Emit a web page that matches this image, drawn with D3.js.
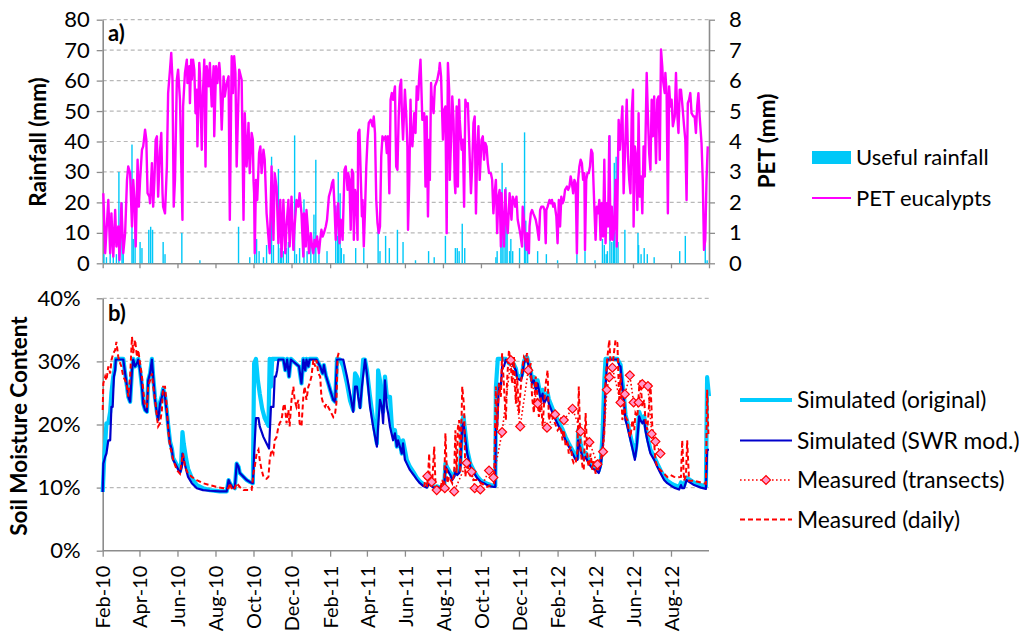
<!DOCTYPE html>
<html><head><meta charset="utf-8">
<script src="https://cdn.jsdelivr.net/npm/d3@7"></script>
<style>
body{margin:0;background:#fff;}
text{font-family:Lato,"Open Sans",sans-serif;fill:#000;}
</style></head><body>
<svg id="c" width="1019" height="637"></svg>
<script>
// ---------------- DATA ----------------
const startDate = "2010-02-01";   // day 0 of all series
const endDate = "2012-10-01";
const rainTicks = [0,10,20,30,40,50,60,70,80];
const petTicks = [0,1,2,3,4,5,6,7,8];
const smcTicks = [0,0.1,0.2,0.3,0.4];
const xTickLabels = ["Feb-10","Apr-10","Jun-10","Aug-10","Oct-10","Dec-10","Feb-11","Apr-11","Jun-11","Aug-11","Oct-11","Dec-11","Feb-12","Apr-12","Jun-12","Aug-12"];
const legendTop = ["Useful rainfall","PET eucalypts"];
const legendBottom = ["Simulated (original)","Simulated (SWR mod.)","Measured (transects)","Measured (daily)"];

// useful rainfall [day, mm]
const rain = [[2,3],[6,2],[12,5],[17,4],[22,3],[26,30],[31,20],[33,6],[47,39],[49,8],[52,12],[60,7],[63,5],[74,11],[77,12],[80,11],[97,7],[100,3],[127,10],[156,1],[218,12],[236,2],[244,3],[247,8],[251,4],[258,2],[263,6],[271,35],[274,6],[282,31],[285,5],[287,8],[290,4],[295,5],[298,7],[308,42],[311,3],[316,5],[323,21],[328,4],[334,6],[339,16],[342,34],[347,3],[360,4],[374,19],[377,9],[378,30],[381,23],[383,5],[387,3],[406,5],[419,5],[442,13],[445,4],[454,9],[460,5],[473,11],[482,7],[502,1],[523,4],[532,2],[550,9],[566,5],[569,5],[572,4],[577,13],[581,5],[631,2],[633,4],[639,6],[641,33],[644,8],[647,25],[649,15],[653,4],[655,8],[658,4],[669,5],[677,43],[679,14],[682,5],[698,4],[712,3],[730,1],[761,3],[774,4],[790,1],[802,8],[805,6],[808,3],[810,4],[814,42],[817,7],[820,15],[821,33],[824,35],[827,7],[838,11],[859,10],[860,6],[864,3],[869,5],[874,3],[885,2],[926,4],[935,9],[967,8],[970,1]];

// PET eucalypts [day, mm]
const pet = [[1,2.30],[4,0.33],[9,2.08],[12,0.33],[14,1.64],[17,0.22],[20,1.75],[22,0.55],[25,1.21],[27,0.11],[30,1.97],[33,0.33],[36,0.99],[39,2.74],[41,3.18],[44,2.96],[47,1.21],[49,2.74],[51,2.08],[53,0.55],[56,3.40],[58,1.86],[60,2.74],[63,3.73],[65,3.84],[68,4.39],[70,4.06],[72,2.30],[75,2.19],[76,1.97],[79,3.29],[81,1.86],[83,2.74],[85,4.06],[87,4.17],[89,2.19],[92,3.73],[94,4.28],[96,2.30],[97,1.86],[100,1.64],[103,3.18],[105,5.59],[108,6.36],[110,6.91],[112,6.03],[114,1.86],[116,2.74],[119,6.03],[121,6.36],[124,5.37],[127,2.30],[128,1.43],[129,5.15],[132,6.25],[135,6.69],[136,5.92],[139,6.47],[140,5.26],[142,6.69],[143,6.03],[145,6.69],[147,6.36],[149,4.93],[151,5.70],[152,3.84],[155,6.58],[156,6.25],[159,3.73],[160,5.15],[163,6.69],[165,3.18],[167,6.47],[170,5.81],[172,6.58],[175,5.15],[178,6.47],[179,4.17],[182,6.47],[184,5.92],[187,6.58],[188,6.36],[191,4.39],[194,6.14],[196,5.48],[199,5.92],[202,6.14],[204,1.43],[207,6.80],[209,5.59],[211,6.80],[213,6.25],[215,3.18],[219,6.36],[223,6.03],[226,1.43],[228,4.93],[231,3.18],[234,4.61],[236,2.96],[239,4.28],[241,4.06],[242,2.74],[243,2.30],[244,0.33],[246,2.74],[248,2.08],[251,3.62],[253,3.84],[255,2.96],[258,3.73],[260,3.40],[263,1.64],[268,0.33],[271,3.18],[274,0.77],[276,2.96],[279,2.52],[282,0.66],[285,2.08],[287,0.22],[290,2.08],[293,0.33],[295,1.21],[298,2.08],[300,0.55],[303,2.19],[306,0.44],[308,1.21],[311,2.08],[314,1.86],[316,2.30],[319,1.64],[322,0.22],
[323,1.64],[326,0.55],[327,1.75],[329,1.21],[331,0.33],[334,0.99],[336,0.55],[338,0.33],[340,0.77],[342,0.55],[344,0.88],[347,0.33],[349,0.77],[351,1.10],[353,0.88],[355,0.99],[358,1.21],[360,1.43],[363,2.19],[366,2.41],[368,2.63],[370,2.74],[372,1.86],[374,0.77],[377,1.86],[378,1.97],[380,0.66],[382,1.43],[385,0.77],[386,1.54],[388,3.07],[390,3.18],[393,2.41],[394,2.96],[396,2.74],[398,1.10],[400,3.07],[402,2.96],[403,0.77],[405,2.41],[407,2.19],[409,0.77],[410,4.28],[412,4.39],[414,2.96],[416,1.54],[417,2.08],[419,0.55],[421,1.75],[423,3.18],[425,4.06],[427,4.61],[430,4.71],[433,4.50],[435,4.82],[437,4.28],[439,2.08],[441,1.32],[443,0.99],[445,1.21],[447,3.51],[449,4.17],[451,4.06],[454,4.17],[456,3.62],[458,4.17],[460,2.30],[462,5.37],[464,5.59],[466,5.37],[469,5.81],[471,3.18],[473,3.07],[475,4.82],[477,5.81],[479,6.03],[480,5.04],[482,4.06],[485,5.70],[487,4.93],[489,3.84],[490,1.10],[492,2.74],[494,5.37],[495,4.39],[497,3.84],[500,4.93],[502,4.28],[504,5.81],[506,5.37],[508,6.14],[510,6.69],[511,6.03],[513,4.71],[516,4.93],[518,2.52],[520,4.82],[522,1.54],[524,4.06],[525,2.74],[527,5.92],[528,5.48],[531,4.93],[533,5.81],[535,5.92],[537,6.03],[540,6.36],[541,6.58],[543,6.14],[546,4.06],[548,5.04],[550,5.15],[552,0.99],[554,6.58],[556,5.70],[557,2.74],[559,4.06],[561,5.48],[563,4.71],[565,2.63],[566,2.30],[568,5.15],[570,2.52],[572,5.37],[573,4.71],[576,3.73],[578,4.06],[580,1.86],[582,5.37],[584,5.15],[586,5.26],[588,4.06],[591,2.30],[593,3.18],[595,4.61],[597,4.82],[599,1.64],[601,3.73],[603,4.50],[605,2.74],[608,4.06],[610,4.17],[612,3.40],[614,3.95],[616,3.84],[618,3.29],[620,2.96],[623,2.96],[625,2.74],[627,1.64],[629,2.30],[631,2.74],[633,0.99],[635,2.19],[637,2.41],[639,0.55],[640,2.30],[642,1.43],[644,0.55],[646,2.41],[648,1.43],
[650,0.99],[653,2.30],[656,1.43],[658,2.19],[660,2.08],[662,1.86],[664,2.19],[666,1.43],[668,1.21],[670,0.99],[673,0.55],[674,1.86],[676,1.43],[678,0.77],[680,0.44],[681,0.99],[684,0.33],[685,1.21],[687,1.64],[689,1.75],[691,1.64],[693,1.54],[695,1.43],[697,1.21],[700,0.77],[702,1.75],[704,1.86],[707,1.86],[709,1.75],[711,0.66],[712,1.75],[714,1.86],[717,2.08],[719,1.97],[721,2.08],[723,1.86],[725,1.97],[728,1.54],[730,0.66],[732,2.08],[734,1.21],[736,2.19],[738,1.97],[740,2.08],[742,2.41],[745,2.52],[747,2.41],[749,2.52],[751,2.85],[753,2.63],[755,2.30],[757,2.74],[759,2.63],[761,0.33],[763,2.74],[765,3.18],[767,3.40],[769,3.29],[771,2.74],[773,2.96],[774,0.44],[776,2.74],[778,2.96],[780,2.96],[782,3.18],[784,3.73],[786,3.62],[788,2.41],[791,0.77],[793,1.86],[795,1.64],[797,2.08],[799,0.77],[801,1.97],[803,0.88],[805,3.40],[807,0.66],[809,1.97],[811,1.21],[813,4.17],[815,0.77],[817,1.86],[819,0.77],[821,1.21],[823,2.74],[825,0.55],[828,4.71],[830,3.73],[832,4.50],[834,5.15],[836,2.30],[838,3.51],[841,5.37],[843,3.51],[845,2.74],[847,2.30],[849,4.93],[851,5.70],[852,1.21],[854,3.84],[856,3.51],[858,1.75],[860,4.93],[862,2.19],[864,2.85],[866,1.64],[868,3.84],[870,2.85],[873,6.25],[875,4.82],[877,3.62],[879,3.07],[881,5.37],[883,4.17],[885,5.48],[888,3.29],[890,5.37],[892,5.48],[894,3.40],[896,7.02],[898,6.47],[899,6.03],[902,5.59],[903,6.25],[905,5.59],[907,1.64],[909,5.81],[911,5.15],[913,5.37],[915,4.50],[918,4.82],[920,6.25],[922,4.93],[924,4.28],[926,5.70],[928,5.70],[930,5.26],[933,4.50],[935,4.06],[937,2.08],[939,5.26],[941,5.37],[943,5.59],[945,4.93],[948,4.82],[950,4.82],[952,4.28],[954,5.15],[956,5.59],[958,4.82],[961,3.95],[963,2.74],[965,0.44],[967,0.77],[969,2.74],[971,3.84]];

// Simulated (original) soil moisture [day, %]
const simOriginal = [[0,9.3],[2,13.8],[4,17.0],[6,20.2],[9,20.2],[12,22.0],[14,25.0],[17,27.6],[19,28.6],[21,30.4],[33,30.4],[36,28.1],[39,26.0],[41,24.4],[44,23.6],[47,28.6],[49,30.4],[52,29.2],[55,29.7],[57,30.4],[60,28.6],[63,26.0],[65,23.3],[68,22.3],[71,22.0],[73,27.0],[76,28.1],[79,30.4],[81,27.6],[84,24.2],[87,22.0],[89,20.9],[92,23.5],[95,24.6],[97,25.7],[100,24.6],[103,22.0],[105,20.0],[108,17.3],[111,16.2],[113,14.7],[119,13.6],[124,12.6],[126,14.0],[128,18.8],[130,17.0],[134,14.5],[137,13.0],[143,11.5],[151,10.4],[161,9.9],[172,9.6],[188,9.4],[199,9.4],[202,11.2],[204,10.7],[208,10.1],[212,9.9],[215,13.8],[218,13.3],[220,12.3],[226,11.7],[231,11.2],[236,10.9],[241,10.7],[243,29.7],[246,30.4],[249,27.0],[252,24.9],[256,22.5],[260,21.0],[266,19.8],[268,30.4],[270,26.0],[272,30.4],[290,30.4],[293,28.6],[296,30.4],[299,27.6],[302,30.4],[315,29.2],[319,26.5],[322,30.4],[325,28.6],[327,30.4],[330,29.2],[332,30.4],[343,30.4],[349,29.2],[351,28.6],[353,28.1],[355,29.4],[358,27.8],[362,26.5],[365,25.5],[370,23.9],[373,23.6],[376,30.4],[381,30.3],[386,29.2],[392,26.5],[397,23.8],[402,22.3],[405,28.1],[408,27.6],[410,27.0],[413,22.8],[418,30.3],[421,30.3],[424,28.6],[429,24.4],[434,20.7],[440,17.0],[442,28.6],[445,27.0],[448,22.8],[450,22.0],[453,27.6],[456,24.4],[461,24.4],[464,19.7],[466,18.6],[469,19.1],[472,16.5],[474,18.0],[477,17.0],[480,15.4],[482,17.5],[488,14.4],[493,13.3],[499,12.4],[504,11.6],[509,11.0],[515,10.5],[520,10.2],[524,10.9],[526,10.6],[532,10.1],[537,10.2],[542,10.0],[548,10.2],[550,13.8],[553,13.2],[558,12.3],[561,11.6],[564,12.0],[566,12.8],[569,12.3],[572,12.6],[574,14.0],[577,20.5],[579,21.3],[581,19.5],[585,16.0],[590,13.8],[596,12.6],[601,11.8],[607,11.1],[612,10.9],[617,10.6],[623,10.4],[628,10.3],[630,10.3],[631,25.9],[634,30.4],[647,30.4],[652,29.7],[655,30.4],[657,29.9],[660,29.5],[663,28.9],[665,27.8],[671,27.5],[673,28.0],[676,30.0],[679,30.7],[681,30.7],[684,29.5],[687,28.5],[689,27.0],[692,27.5],[695,26.0],[698,27.0],[700,26.0],[703,24.5],[706,25.5],[708,24.0],[714,25.0],[716,24.0],[722,22.5],[727,21.3],[732,20.3],[738,19.2],[743,18.0],[748,17.0],[754,15.9],[759,14.9],[762,14.7],[763,19.1],[767,17.0],[770,15.6],[772,15.0],[775,15.5],[780,14.3],[786,13.5],[791,13.2],[796,12.7],[799,13.8],[802,18.0],[805,27.0],[807,30.4],[826,30.4],[829,29.8],[831,29.5],[834,26.8],[837,24.0],[839,21.5],[842,20.4],[847,18.2],[852,16.0],[854,15.0],[857,17.2],[861,22.0],[863,21.4],[866,20.9],[869,21.3],[871,19.8],[874,18.2],[879,16.0],[885,14.9],[890,13.8],[895,12.8],[901,11.7],[906,11.1],[912,10.7],[917,10.4],[925,10.1],[928,10.8],[930,10.3],[933,10.3],[937,11.6],[941,11.3],[949,10.8],[960,10.4],[968,10.2],[970,27.5],[973,24.5]];

// Simulated (SWR mod.) soil moisture [day, %]
const simSWR = [[0,9.3],[1,13.8],[4,14.9],[6,15.4],[9,17.5],[12,17.5],[14,22.8],[16,22.8],[18,27.6],[20,28.6],[21,30.3],[33,30.3],[36,28.1],[39,26.0],[41,24.4],[44,23.6],[47,28.6],[49,30.3],[52,29.2],[55,29.7],[57,30.3],[60,28.6],[63,26.0],[65,23.3],[68,22.3],[71,22.0],[73,27.0],[76,28.1],[79,30.3],[81,27.6],[84,23.9],[87,21.8],[89,20.7],[92,23.3],[95,24.4],[97,25.5],[100,24.4],[103,21.8],[105,19.7],[108,17.0],[111,16.0],[113,14.4],[119,13.3],[124,12.3],[127,13.3],[128,15.4],[130,14.4],[134,12.8],[137,11.7],[143,10.7],[151,9.9],[161,9.6],[172,9.5],[188,9.4],[199,9.4],[202,11.2],[204,10.7],[208,10.1],[212,9.9],[215,13.8],[218,13.3],[220,12.3],[226,11.7],[231,11.2],[236,10.9],[241,10.7],[243,15.4],[246,21.0],[250,21.0],[252,19.7],[258,18.0],[263,17.0],[267,16.2],[270,22.8],[274,22.8],[276,27.6],[278,27.6],[280,28.6],[282,30.3],[290,30.3],[293,28.6],[296,30.3],[299,27.6],[302,30.3],[315,29.2],[319,26.5],[322,30.3],[325,28.6],[327,30.3],[330,29.2],[332,30.3],[343,30.3],[349,29.2],[351,28.6],[353,28.1],[355,29.4],[358,27.8],[362,26.5],[365,25.5],[370,23.9],[373,23.6],[376,30.3],[381,30.3],[386,30.3],[392,27.6],[397,24.9],[402,22.0],[405,26.0],[408,26.0],[410,24.4],[413,22.6],[416,26.0],[419,28.6],[421,30.3],[424,28.1],[429,22.8],[434,19.7],[440,16.5],[442,19.7],[445,23.9],[448,22.8],[450,20.2],[453,27.0],[456,22.8],[458,21.8],[461,19.7],[466,17.5],[469,18.6],[472,16.5],[474,17.5],[480,15.4],[482,17.0],[485,14.4],[488,13.8],[493,12.8],[499,12.0],[504,11.3],[509,10.7],[515,10.2],[520,10.0],[524,10.7],[526,10.4],[532,9.9],[537,10.1],[542,9.9],[548,10.1],[550,13.3],[553,12.8],[558,12.0],[561,11.2],[564,11.7],[566,12.5],[569,12.0],[572,12.3],[574,13.3],[577,19.7],[579,20.2],[581,18.6],[585,15.4],[590,13.3],[596,12.3],[601,11.5],[607,10.9],[612,10.7],[617,10.4],[623,10.2],[628,10.1],[630,10.1],[631,19.7],[633,19.7],[636,26.5],[639,26.0],[641,29.2],[644,29.2],[647,30.3],[652,29.7],[655,30.3],[657,29.7],[660,29.2],[663,28.6],[665,27.3],[671,27.0],[673,27.6],[676,29.7],[679,30.3],[681,30.3],[684,29.2],[687,28.1],[689,26.5],[692,27.0],[695,25.5],[698,26.5],[700,25.5],[703,23.9],[706,24.9],[708,23.3],[714,24.4],[716,23.3],[722,21.8],[727,20.7],[732,19.7],[738,18.6],[743,17.5],[748,16.5],[754,15.4],[759,14.4],[762,14.4],[763,17.5],[767,15.9],[770,14.9],[772,14.4],[775,14.9],[780,13.8],[786,13.0],[791,12.8],[796,12.3],[799,13.3],[802,15.9],[805,20.7],[807,26.0],[810,30.3],[826,30.3],[829,29.4],[831,29.2],[834,26.0],[837,23.3],[839,20.7],[842,19.7],[847,17.5],[852,15.4],[854,14.4],[857,16.5],[861,21.3],[863,20.7],[866,20.2],[869,20.7],[871,19.1],[874,17.5],[879,15.4],[885,14.4],[890,13.3],[895,12.3],[901,11.2],[906,10.7],[912,10.3],[917,10.0],[925,9.7],[928,10.4],[930,9.9],[933,9.9],[937,11.2],[941,10.9],[949,10.4],[960,10.0],[968,9.8],[970,16.0],[973,16.0]];

// Measured (daily) soil moisture [day, %]; null = no record
const measDaily = [[0,22.3],[1,26.5],[4,27.6],[6,27.0],[9,29.2],[12,28.1],[14,30.2],[17,31.3],[20,31.8],[22,33.1],[25,30.7],[28,29.7],[30,29.2],[33,27.6],[36,27.0],[39,26.0],[41,24.4],[44,27.6],[47,33.9],[49,31.3],[52,33.4],[55,30.7],[57,31.8],[60,29.7],[63,27.6],[65,25.5],[68,22.8],[71,22.8],[73,26.0],[76,27.0],[79,28.1],[81,26.0],[84,23.9],[87,21.2],[89,19.7],[92,20.2],[95,22.3],[97,26.0],[100,26.0],[103,22.8],[105,19.1],[108,16.5],[111,15.4],[113,14.4],[119,12.8],[124,12.2],[127,14.4],[129,15.4],[132,13.3],[137,12.2],[143,11.7],[151,11.2],[161,10.7],[172,10.4],[183,10.1],[194,9.9],[202,9.9],[204,10.7],[208,9.6],[212,9.9],[215,10.7],[220,10.1],[226,9.6],[234,9.6],[239,9.6],[242,12.3],[244,13.3],[247,15.4],[250,16.0],[252,14.4],[255,12.8],[258,11.7],[263,11.4],[266,11.7],[268,14.4],[271,16.0],[274,15.4],[276,17.5],[279,18.0],[282,19.7],[284,20.2],[287,20.7],[290,22.8],[292,23.3],[295,20.2],[298,22.3],[300,19.7],[303,23.9],[306,26.0],[308,23.9],[311,22.8],[314,23.9],[316,20.2],[319,19.7],[322,24.4],[324,26.0],[327,23.9],[330,26.0],[332,26.5],[335,27.6],[338,30.2],[341,29.2],[343,30.2],[346,28.1],[349,27.6],[351,24.4],[354,23.3],[357,22.8],[359,23.3],[365,22.2],[370,21.2],[373,21.8],[375,23.3],[377,30.7],[380,31.8],[450,null],
[516,10.1],[518,11.7],[521,10.1],[524,15.4],[525,10.1],[529,11.2],[532,16.5],[534,10.7],[537,9.6],[542,9.9],[545,11.2],[548,10.1],[550,18.6],[553,10.7],[556,11.7],[561,10.7],[564,12.2],[566,19.1],[568,12.3],[570,19.5],[572,20.7],[574,12.3],[577,26.0],[580,22.8],[582,11.7],[585,14.0],[588,12.2],[591,11.7],[596,11.2],[601,11.2],[607,10.7],[612,10.4],[617,10.1],[623,10.4],[628,10.7],[631,26.0],[633,19.1],[636,26.5],[639,24.4],[641,31.3],[644,26.0],[647,20.7],[649,27.0],[652,31.8],[655,29.2],[657,26.5],[660,30.7],[663,23.3],[665,27.6],[668,21.8],[671,26.0],[673,28.6],[676,30.7],[679,30.2],[681,31.3],[684,28.6],[687,29.7],[689,24.4],[692,21.8],[695,27.6],[698,23.9],[700,21.2],[703,24.4],[706,19.7],[708,22.8],[711,26.5],[714,28.6],[716,20.7],[719,21.8],[724,20.7],[730,19.1],[735,19.7],[738,17.5],[740,19.1],[743,16.5],[746,17.0],[748,15.4],[751,16.5],[754,14.4],[756,13.8],[759,13.8],[762,15.9],[764,26.0],[767,15.9],[770,13.3],[772,12.8],[775,21.8],[778,14.4],[780,13.3],[783,15.4],[786,12.8],[788,14.4],[791,12.2],[794,13.8],[796,12.8],[799,13.8],[802,15.9],[805,18.6],[807,27.0],[810,30.7],[813,33.4],[815,29.7],[818,29.2],[821,31.8],[823,33.4],[826,32.9],[829,23.3],[831,28.1],[834,20.7],[837,23.3],[839,21.2],[842,20.7],[845,18.6],[847,18.0],[850,20.7],[853,19.1],[855,21.8],[858,21.2],[861,26.0],[863,27.0],[866,22.8],[869,23.9],[871,20.7],[874,19.1],[877,23.3],[879,26.5],[882,19.7],[885,17.0],[887,14.4],[890,13.3],[895,12.8],[901,12.2],[906,11.7],[911,12.0],[917,11.7],[922,11.6],[928,11.7],[930,17.5],[933,11.1],[936,11.9],[938,17.5],[941,11.1],[949,11.1],[960,10.8],[968,10.6],[970,25.5],[972,18.5]];

// Measured (transects) soil moisture [day, %]
const measTransects = [[521,11.8],[528,10.9],[536,9.6],[549,9.9],[564,9.4],[584,13.9],[592,12.5],[597,9.9],[606,9.7],[620,12.7],[627,11.6],[641,18.8],[655,30.2],[670,19.7],[683,28.6],[698,23.3],[713,19.5],[726,21.6],[740,20.7],[754,22.5],[767,18.9],[781,17.2],[794,13.7],[803,15.7],[809,25.5],[813,27.5],[818,29.0],[831,23.5],[838,24.8],[846,27.8],[852,23.5],[860,23.5],[866,26.4],[875,26.1],[881,18.5],[887,17.3],[895,15.4]];

// ---------------- CHART ----------------
const C = {rain:"#00c8f8", pet:"#ff00ff", orig:"#00ccff", swr:"#0000cc", meas:"#ff0000", marker:"#ff99cc", axis:"#8c8c8c", grid:"#b8b8b8"};
const parseISO = d3.timeParse("%Y-%m-%d");
const t0 = parseISO(startDate), t1 = parseISO(endDate);
const dayDate = d => d3.timeDay.offset(t0, d);

const svg = d3.select("#c");
svg.append("rect").attr("width",1019).attr("height",637).attr("fill","#fff");

const X0 = 102.7, X1 = 709;
const x = d3.scaleTime().domain([t0,t1]).range([X0,X1]);
const yRain = d3.scaleLinear().domain([0,80]).range([263.3,19.7]);
const yPet = d3.scaleLinear().domain([0,8]).range([263.3,19.7]);
const ySmc = d3.scaleLinear().domain([0,0.4]).range([550.7,298.3]);

const parseTick = d3.timeParse("%b-%y");
const tickDates = xTickLabels.map(parseTick);

// gridlines
svg.append("g").selectAll("line").data(rainTicks.slice(1)).join("line")
  .attr("x1",X0).attr("x2",X1).attr("y1",d=>yRain(d)).attr("y2",d=>yRain(d))
  .attr("stroke",C.grid).attr("stroke-width",1.2).attr("stroke-dasharray","4,3");
svg.append("g").selectAll("line").data(smcTicks.slice(1)).join("line")
  .attr("x1",X0).attr("x2",X1).attr("y1",d=>ySmc(d)).attr("y2",d=>ySmc(d))
  .attr("stroke",C.grid).attr("stroke-width",1.2).attr("stroke-dasharray","4,3");

function styleAxis(g, fs){
  g.selectAll(".domain").attr("stroke",C.axis).attr("stroke-width",1.6);
  g.selectAll(".tick line").attr("stroke",C.axis).attr("stroke-width",1.3);
  g.selectAll("text").attr("font-family","Lato, sans-serif").attr("font-size",fs).attr("fill","#000");
}
// top panel axes
svg.append("g").attr("transform",`translate(${X0},0)`)
  .call(d3.axisLeft(yRain).tickValues(rainTicks).tickSize(6).tickPadding(7).tickSizeOuter(0))
  .call(g=>styleAxis(g,22));
svg.append("g").attr("transform",`translate(${X1},0)`)
  .call(d3.axisRight(yPet).tickValues(petTicks).tickSize(6).tickPadding(14).tickSizeOuter(0))
  .call(g=>styleAxis(g,22));
svg.append("g").attr("transform",`translate(0,${yRain(0)})`)
  .call(d3.axisBottom(x).tickValues(tickDates.concat([t1])).tickSize(5).tickFormat("").tickSizeOuter(0))
  .call(g=>styleAxis(g,22));
// bottom panel axes
svg.append("g").attr("transform",`translate(${X0},0)`)
  .call(d3.axisLeft(ySmc).tickValues(smcTicks).tickFormat(d3.format(".0%")).tickSize(6).tickPadding(16).tickSizeOuter(0))
  .call(g=>styleAxis(g,22));
const xb = svg.append("g").attr("transform",`translate(0,${ySmc(0)})`)
  .call(d3.axisBottom(x).tickValues(tickDates).tickSize(6).tickFormat((d,i)=>xTickLabels[i]).tickSizeOuter(0))
  .call(g=>styleAxis(g,20));
xb.select(".domain").attr("d",`M${X0},0H${X1}`);
xb.selectAll(".tick text").attr("transform","rotate(-90)").attr("text-anchor","end")
  .attr("x",-15).attr("y",0).attr("dy","0.36em");

// rain bars
svg.append("g").selectAll("rect").data(rain).join("rect")
  .attr("x",d=>x(dayDate(d[0]))-0.7).attr("width",1.4)
  .attr("y",d=>yRain(d[1])).attr("height",d=>yRain(0)-yRain(d[1]))
  .attr("fill",C.rain);
// PET line
svg.append("path").datum(pet)
  .attr("d",d3.line().x(d=>x(dayDate(d[0]))).y(d=>yPet(d[1])))
  .attr("fill","none").attr("stroke",C.pet).attr("stroke-width",2.4).attr("stroke-linejoin","round");

// soil moisture lines
const smLine = d3.line().defined(d=>d[1]!==null).x(d=>x(dayDate(d[0]))).y(d=>ySmc(d[1]/100));
svg.append("path").datum(simOriginal).attr("d",smLine)
  .attr("fill","none").attr("stroke",C.orig).attr("stroke-width",4.2).attr("stroke-linejoin","round");
svg.append("path").datum(simSWR).attr("d",smLine)
  .attr("fill","none").attr("stroke",C.swr).attr("stroke-width",2.2).attr("stroke-linejoin","round");
svg.append("path").datum(measDaily).attr("d",smLine)
  .attr("fill","none").attr("stroke",C.meas).attr("stroke-width",2).attr("stroke-dasharray","5,3");
svg.append("path").datum(measTransects).attr("d",smLine)
  .attr("fill","none").attr("stroke",C.meas).attr("stroke-width",1.6).attr("stroke-dasharray","1.6,2.4");
const diamond = d3.symbol().type(d3.symbolSquare).size(40);
svg.append("g").selectAll("path").data(measTransects).join("path")
  .attr("d",diamond)
  .attr("transform",d=>`translate(${x(dayDate(d[0]))},${ySmc(d[1]/100)}) rotate(45)`)
  .attr("fill",C.marker).attr("stroke",C.meas).attr("stroke-width",1.2);

// panel letters
svg.append("text").attr("x",108).attr("y",41).attr("font-weight","bold").attr("font-size",22).text("a)");
svg.append("text").attr("x",108).attr("y",321).attr("font-weight","bold").attr("font-size",22).text("b)");

// axis titles
function vtitle(txt, cx, cy){
  svg.append("text").attr("transform",`translate(${cx},${cy}) rotate(-90)`)
    .attr("text-anchor","middle").attr("dy","0.35em").attr("font-weight","bold").attr("font-size",22.5).text(txt);
}
vtitle("Rainfall (mm)", 38, 142);
vtitle("PET (mm)", 767, 141);
vtitle("Soil Moisture Content", 19.5, 426);

// top legend
const lt = svg.append("g");
lt.append("rect").attr("x",812).attr("y",151).attr("width",39).attr("height",13).attr("fill",C.rain);
lt.append("line").attr("x1",812).attr("x2",851).attr("y1",198).attr("y2",198).attr("stroke",C.pet).attr("stroke-width",2);
lt.selectAll("text").data(legendTop).join("text")
  .attr("x",856).attr("y",(d,i)=>157.5+i*40.5).attr("dy","0.36em").attr("font-size",22).text(d=>d);

// bottom legend
const lb = svg.append("g");
const ly = [400,440.5,480,519.5];
lb.append("line").attr("x1",740).attr("x2",792).attr("y1",ly[0]).attr("y2",ly[0]).attr("stroke",C.orig).attr("stroke-width",4.2);
lb.append("line").attr("x1",740).attr("x2",792).attr("y1",ly[1]).attr("y2",ly[1]).attr("stroke",C.swr).attr("stroke-width",2.2);
lb.append("line").attr("x1",740).attr("x2",792).attr("y1",ly[2]).attr("y2",ly[2]).attr("stroke",C.meas).attr("stroke-width",1.6).attr("stroke-dasharray","1.6,2.4");
lb.append("path").attr("d",diamond).attr("transform",`translate(766,${ly[2]}) rotate(45)`).attr("fill",C.marker).attr("stroke",C.meas).attr("stroke-width",1.2);
lb.append("line").attr("x1",740).attr("x2",792).attr("y1",ly[3]).attr("y2",ly[3]).attr("stroke",C.meas).attr("stroke-width",2).attr("stroke-dasharray","5,3");
lb.selectAll("text").data(legendBottom).join("text")
  .attr("x",797).attr("y",(d,i)=>ly[i]).attr("dy","0.36em").attr("font-size",22.8).text(d=>d);
</script>
</body></html>
